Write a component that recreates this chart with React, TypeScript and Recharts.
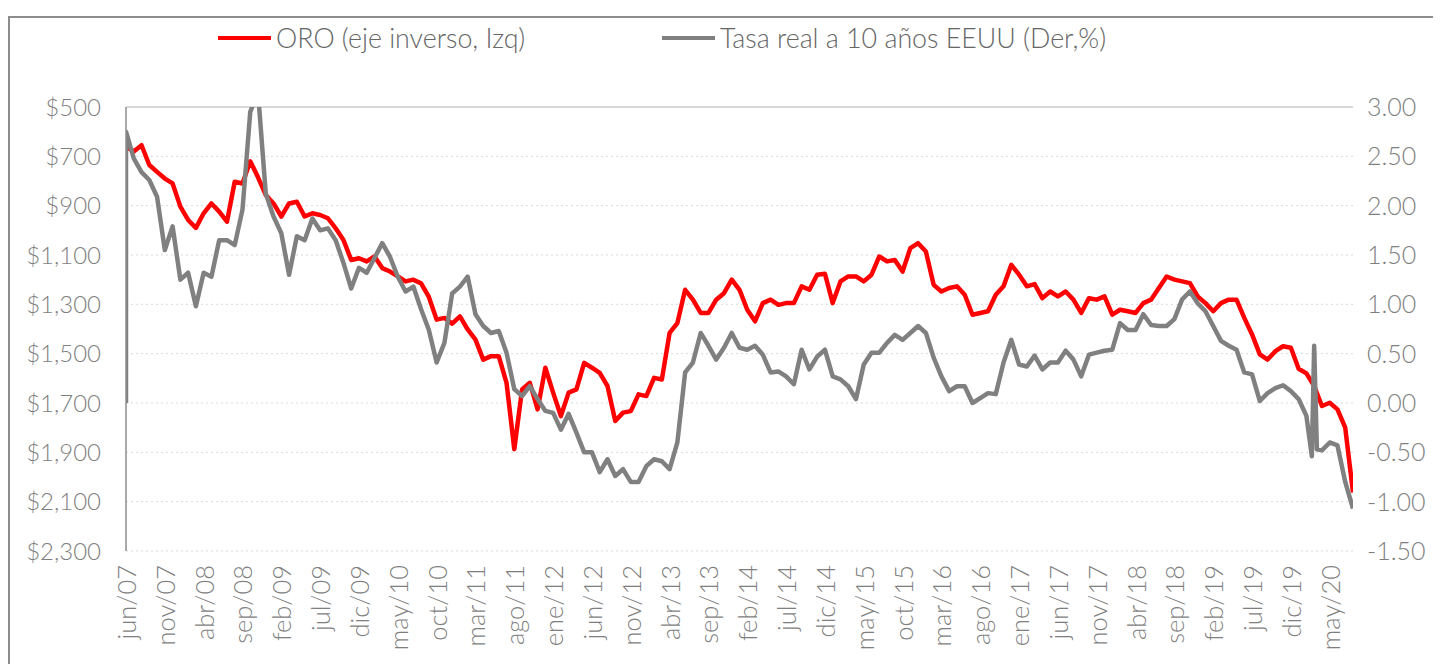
import React from "react";
import { LineChart, Line, XAxis, YAxis, CartesianGrid, ReferenceLine } from "recharts";

// Month names (Spanish) used to build the monthly categories jun/07 .. ago/20
const monthNames = ["ene", "feb", "mar", "abr", "may", "jun", "jul", "ago", "sep", "oct", "nov", "dic"];

// Tick labels shown on the x axis (every 5 months)
const tickLabels = [
  "jun/07", "nov/07", "abr/08", "sep/08", "feb/09", "jul/09", "dic/09", "may/10",
  "oct/10", "mar/11", "ago/11", "ene/12", "jun/12", "nov/12", "abr/13", "sep/13",
  "feb/14", "jul/14", "dic/14", "may/15", "oct/15", "mar/16", "ago/16", "ene/17",
  "jun/17", "nov/17", "abr/18", "sep/18", "feb/19", "jul/19", "dic/19", "may/20",
];

// Gold price (USD/oz), monthly, jun/07 .. ago/20 (plotted on inverted left axis)
const goldValues = [
  660, 680, 655, 735, 763, 790, 810, 904, 958, 990,
  931, 891, 924, 965, 803, 810, 720, 785, 857, 891,
  944, 891, 884, 944, 931, 938, 951, 992, 1039, 1120,
  1113, 1126, 1106, 1153, 1167, 1187, 1207, 1200, 1215, 1270,
  1362, 1355, 1378, 1349, 1402, 1443, 1524, 1510, 1510, 1618,
  1887, 1645, 1618, 1726, 1557, 1658, 1753, 1658, 1645, 1537,
  1557, 1578, 1631, 1773, 1739, 1733, 1665, 1672, 1598, 1605,
  1416, 1376, 1241, 1281, 1335, 1335, 1281, 1255, 1200, 1241,
  1322, 1369, 1295, 1281, 1302, 1295, 1295, 1227, 1241, 1180,
  1176, 1295, 1207, 1187, 1187, 1207, 1180, 1106, 1126, 1120,
  1167, 1072, 1052, 1086, 1221, 1248, 1234, 1227, 1261, 1342,
  1335, 1328, 1261, 1227, 1140, 1180, 1227, 1218, 1275, 1248,
  1268, 1248, 1281, 1335, 1275, 1281, 1268, 1342, 1322, 1328,
  1335, 1295, 1281, 1234, 1187, 1200, 1207, 1214, 1268, 1295,
  1328, 1295, 1281, 1281, 1355, 1422, 1503, 1524, 1490, 1470,
  1476, 1561, 1580, 1631, 1712, 1699, 1726, 1800, 2063,
];

// US 10-year real rate (%), monthly, jun/07 .. ago/20 (right axis)
const realRateFirstPrint = 0;
const realRateValues = [
  2.75, 2.48, 2.34, 2.26, 2.09, 1.55, 1.79, 1.25, 1.32, 0.98,
  1.32, 1.28, 1.65, 1.65, 1.60, 1.96, 2.95, 3.15, 2.12, 1.89,
  1.72, 1.30, 1.69, 1.65, 1.87, 1.75, 1.77, 1.65, 1.42, 1.16,
  1.37, 1.32, 1.47, 1.62, 1.48, 1.28, 1.13, 1.18, 0.95, 0.74,
  0.41, 0.61, 1.11, 1.18, 1.28, 0.90, 0.78, 0.71, 0.73, 0.51,
  0.14, 0.07, 0.17, 0.04, -0.08, -0.10, -0.27, -0.11, -0.30, -0.50,
  -0.50, -0.70, -0.57, -0.74, -0.67, -0.80, -0.80, -0.64, -0.57, -0.59,
  -0.67, -0.40, 0.31, 0.41, 0.71, 0.58, 0.44, 0.56, 0.71, 0.56,
  0.54, 0.58, 0.49, 0.31, 0.32, 0.27, 0.19, 0.54, 0.34, 0.47,
  0.54, 0.27, 0.24, 0.17, 0.04, 0.39, 0.51, 0.51, 0.61, 0.69,
  0.64, 0.71, 0.78, 0.71, 0.46, 0.27, 0.12, 0.17, 0.17, 0.00,
  0.05, 0.10, 0.09, 0.41, 0.64, 0.39, 0.37, 0.48, 0.34, 0.41,
  0.41, 0.53, 0.44, 0.27, 0.49, 0.51, 0.53, 0.54, 0.81, 0.74,
  0.74, 0.90, 0.79, 0.78, 0.78, 0.85, 1.05, 1.13, 1.01, 0.93,
  0.78, 0.63, 0.58, 0.54, 0.31, 0.29, 0.02, 0.10, 0.15, 0.18,
  0.12, 0.04, -0.13, 0.58, -0.48, -0.40, -0.43, -0.80, -1.07,
];

// Intra-month prints around the March 2020 spike (month index, value)
const realRateSpikeTimes = [152.7, 153.35];
const realRateSpikeValues = [-0.54, -0.47];

const goldTicks = [500, 700, 900, 1100, 1300, 1500, 1700, 1900, 2100, 2300];
const rateTicks = [3, 2.5, 2, 1.5, 1, 0.5, 0, -0.5, -1, -1.5];

const categories = goldValues.map((_, i) => {
  const mi = (5 + i) % 12;
  const yr = 7 + Math.floor((5 + i) / 12);
  return `${monthNames[mi]}/${String(yr).padStart(2, "0")}`;
});

const goldData = goldValues.map((v, i) => ({ t: i, label: categories[i], v }));
const rateData = [
  { t: 0, v: realRateFirstPrint, k: 0 },
  ...realRateValues.map((v, i) => ({ t: i, v, k: 1 })),
  ...realRateSpikeTimes.map((t, i) => ({ t, v: realRateSpikeValues[i], k: 1 })),
].sort((a, b) => a.t - b.t || a.k - b.k);
const xTicks = tickLabels.map((_, i) => i * 5);

const FONT = "Lato, 'Open Sans', sans-serif";
const TICK_COLOR = "#7f7f7f";

const XTick = (props: any) => {
  const { x, y, payload } = props;
  const label = tickLabels[Math.round(payload.value / 5)] ?? "";
  const yy = y + 6;
  return (
    <text
      x={x}
      y={yy}
      transform={`rotate(-90 ${x} ${yy})`}
      textAnchor="end"
      dominantBaseline="central"
      fill={TICK_COLOR}
      fontSize={25.5}
      fontWeight={300}
      fontFamily={FONT}
    >
      {label}
    </text>
  );
};

const fmtGold = (v: number) => `$${v.toLocaleString("en-US")}`;
const fmtRate = (v: number) => v.toFixed(2);

const legendItem = (color: string, text: string, left: number, lineW: number) => (
  <div
    style={{
      position: "absolute",
      left,
      top: 14,
      display: "flex",
      alignItems: "center",
      color: "#666",
      fontSize: 26.8,
      fontWeight: 300,
      whiteSpace: "nowrap",
    }}
  >
    <span style={{ display: "inline-block", width: lineW, height: 4, background: color, marginRight: 5 }} />
    <span>{text}</span>
  </div>
);

export default function App() {
  return (
    <div style={{ position: "relative", width: 1433, height: 656, fontFamily: FONT, background: "#fff" }}>
      <div
        style={{
          position: "absolute",
          left: 0,
          top: 8,
          width: 1433,
          height: 648,
          borderLeft: "2px solid #8c8c8c",
          borderTop: "2px solid #8c8c8c",
          boxSizing: "border-box",
        }}
      />
      {legendItem("#ff0000", "ORO (eje inverso, Izq)", 210, 53)}
      {legendItem("#808080", "Tasa real a 10 años EEUU (Der,%)", 654, 53)}
      <div style={{ position: "absolute", left: 0, top: 0 }}>
        <LineChart width={1433} height={656} margin={{ top: 99, right: 8, bottom: 13, left: 18 }}>
          <CartesianGrid yAxisId="left" vertical={false} stroke="#d9d9d9" strokeDasharray="2 3" />
          <XAxis
            dataKey="t"
            type="number"
            domain={[0, 158]}
            ticks={xTicks}
            interval={0}
            tick={<XTick />}
            axisLine={false}
            tickLine={false}
            height={100}
            allowDataOverflow
          />
          <YAxis
            yAxisId="left"
            orientation="left"
            type="number"
            domain={[500, 2300]}
            ticks={goldTicks}
            reversed
            allowDataOverflow
            width={100}
            tickFormatter={fmtGold}
            tick={{ fill: TICK_COLOR, fontSize: 24, fontWeight: 300, fontFamily: FONT }}
            axisLine={{ stroke: "#8c8c8c", strokeWidth: 1.5 }}
            tickLine={false}
            tickSize={0}
            tickMargin={25}
          />
          <YAxis
            yAxisId="right"
            orientation="right"
            type="number"
            domain={[-1.5, 3]}
            ticks={rateTicks}
            allowDataOverflow
            width={80}
            tickFormatter={fmtRate}
            tick={{ fill: TICK_COLOR, fontSize: 25, fontWeight: 300, fontFamily: FONT, textAnchor: "start" }}
            axisLine={false}
            tickLine={false}
            tickSize={0}
            tickMargin={14}
          />
          <ReferenceLine yAxisId="left" y={500} stroke="#d9d9d9" strokeWidth={2} />
          <Line
            yAxisId="left"
            data={goldData}
            dataKey="v"
            type="linear"
            stroke="#ff0000"
            strokeWidth={4.5}
            strokeLinejoin="round"
            dot={false}
            isAnimationActive={false}
            name="ORO (eje inverso, Izq)"
          />
          <Line
            yAxisId="right"
            data={rateData}
            dataKey="v"
            type="linear"
            stroke="#808080"
            strokeWidth={4.5}
            strokeLinejoin="round"
            dot={false}
            isAnimationActive={false}
            name="Tasa real a 10 años EEUU (Der,%)"
          />
        </LineChart>
      </div>
    </div>
  );
}
